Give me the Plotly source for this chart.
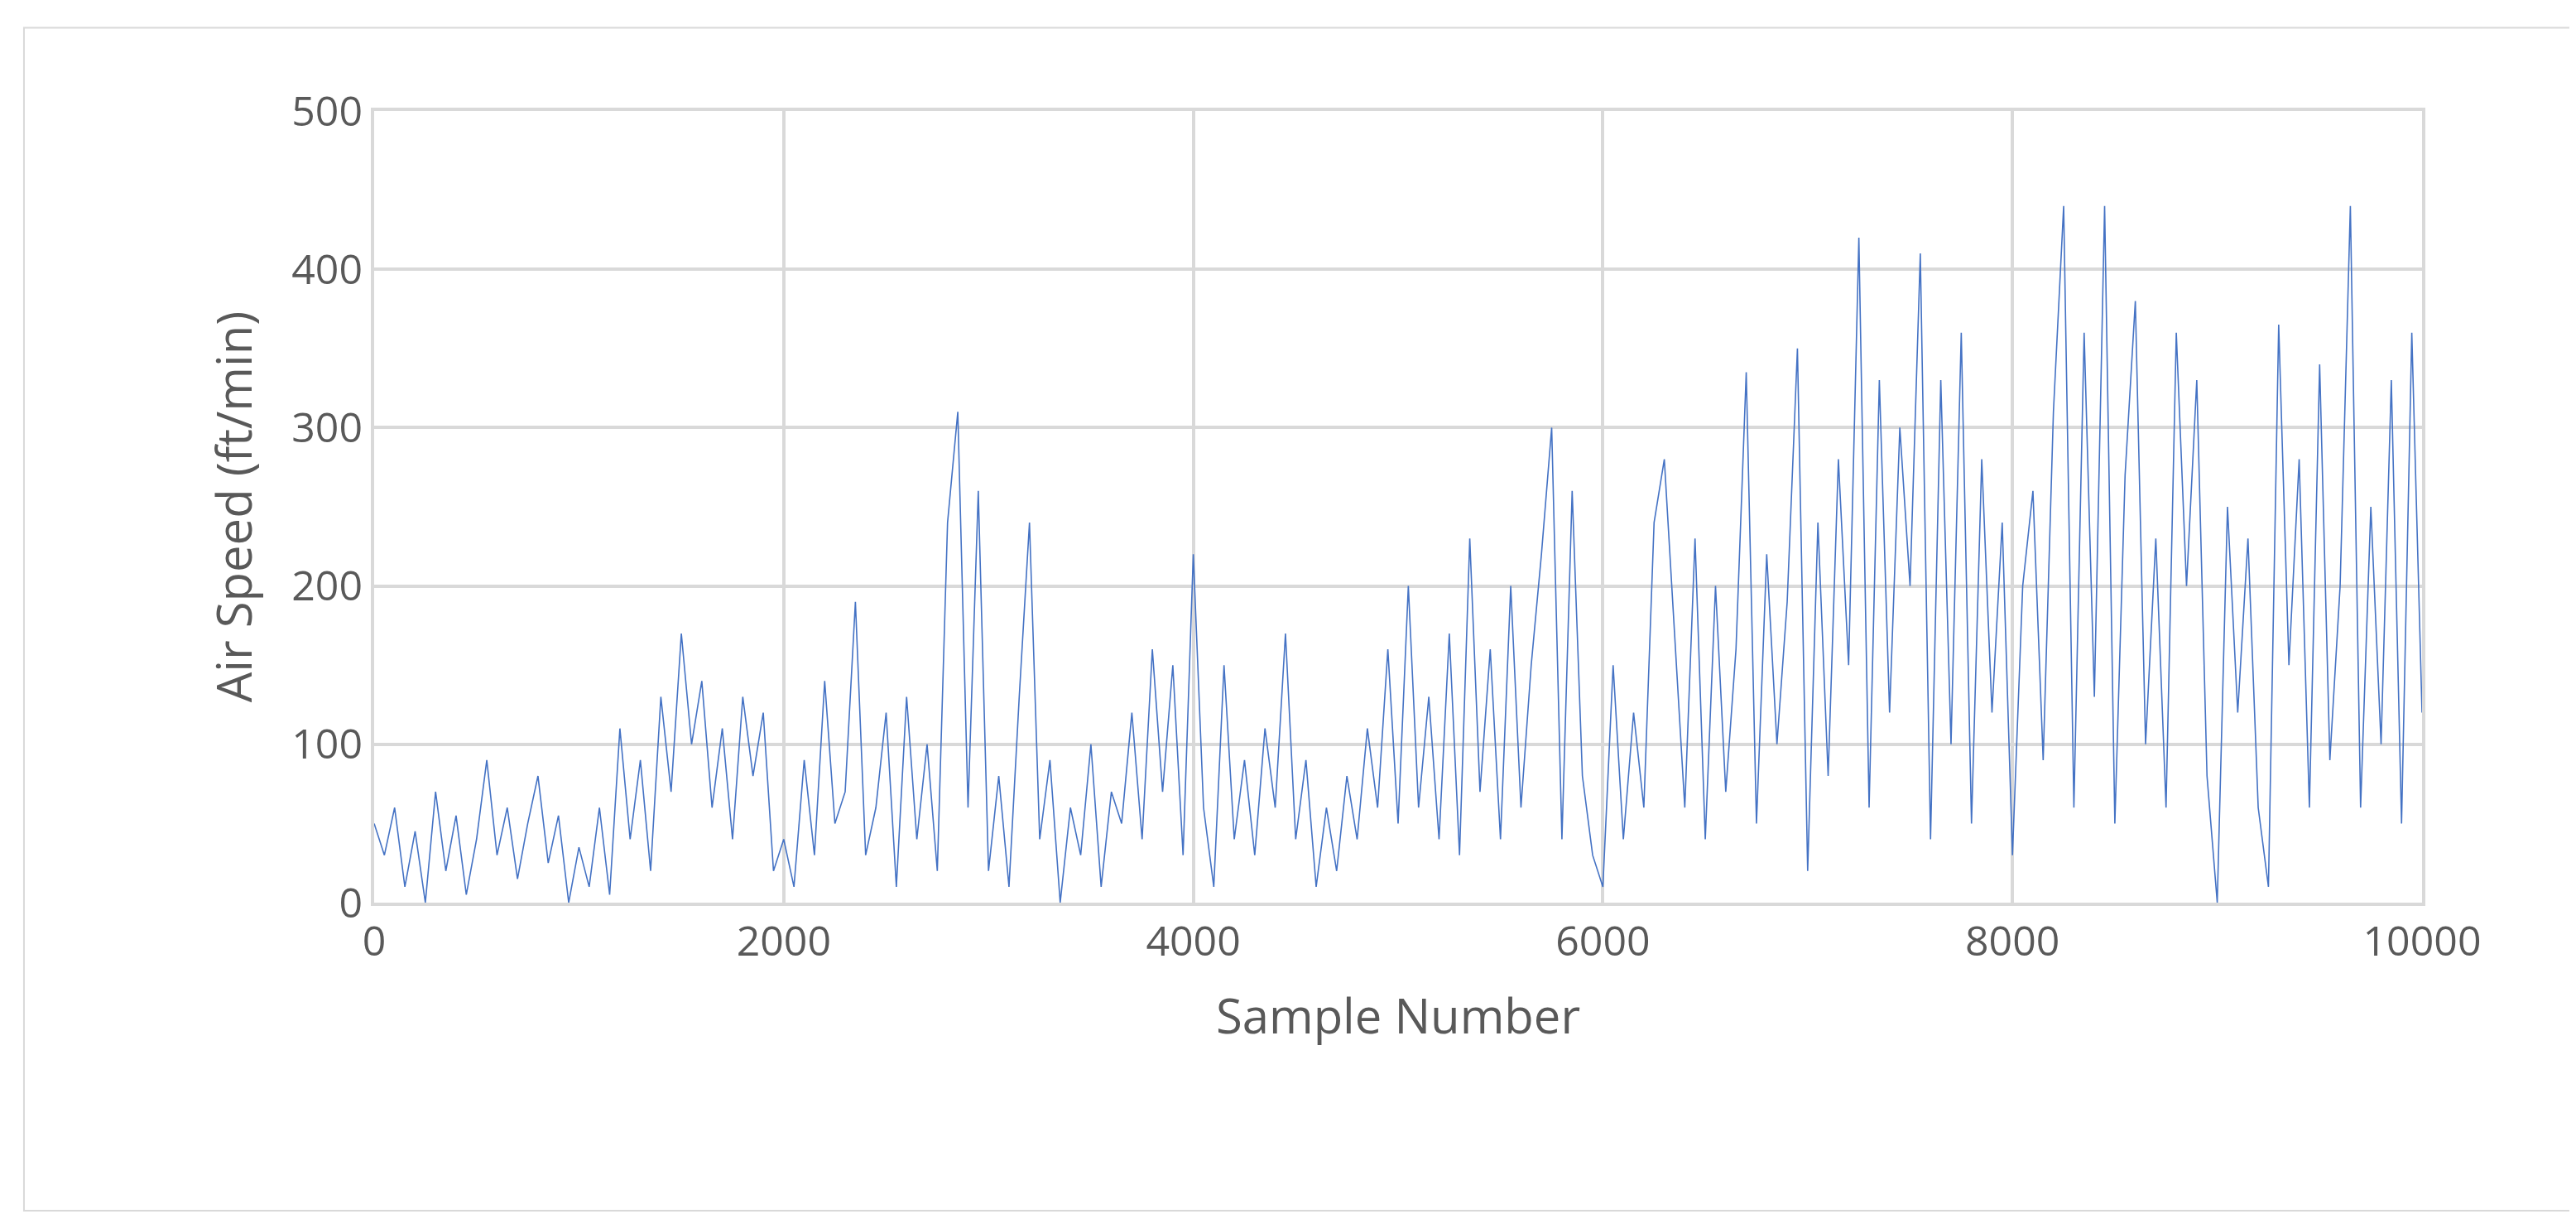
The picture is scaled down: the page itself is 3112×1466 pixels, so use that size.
import plotly.graph_objects as go

sample_start = 0
sample_step = 50
air_speed = [
    50,30,60,10,45,0,70,20,55,5,40,90,30,60,15,50,80,25,55,0,
    35,10,60,5,110,40,90,20,130,70,170,100,140,60,110,40,130,80,120,20,
    40,10,90,30,140,50,70,190,30,60,120,10,130,40,100,20,240,310,60,260,
    20,80,10,130,240,40,90,0,60,30,100,10,70,50,120,40,160,70,150,30,
    220,60,10,150,40,90,30,110,60,170,40,90,10,60,20,80,40,110,60,160,
    50,200,60,130,40,170,30,230,70,160,40,200,60,150,220,300,40,260,80,30,
    10,150,40,120,60,240,280,170,60,230,
    40,200,70,160,335,50,220,100,190,350,
    20,240,80,280,150,420,60,330,120,300,200,410,40,330,100,360,50,280,120,240,
    30,200,260,90,310,440,60,360,130,440,
    50,270,380,100,230,60,360,200,330,80,
    0,250,120,230,60,10,365,150,280,60,
    340,90,200,440,60,250,100,330,50,360,120,
]
samples = [sample_start + i * sample_step for i in range(len(air_speed))]

fig = go.Figure(go.Scatter(x=samples, y=air_speed, mode="lines",
                           line=dict(color="#4472C4", width=1.6)))
font = "Open Sans, Liberation Sans, sans-serif"
fig.update_layout(
    width=3112, height=1466, paper_bgcolor="white", plot_bgcolor="white",
    margin=dict(l=444, r=194, t=126, b=384),
    showlegend=False,
    font=dict(family=font, color="#595959", size=50),
    shapes=[dict(type="rect", xref="paper", yref="paper", x0=-0.171, x1=1.074,
                 y0=-0.389, y1=1.105, line=dict(color="#D9D9D9", width=2))],
)
fig.update_xaxes(range=[0, 10000], dtick=2000, tickformat="d", showgrid=True,
                 gridcolor="#D9D9D9", gridwidth=4, zeroline=False, showline=True,
                 linecolor="#D9D9D9", linewidth=4, mirror=True, ticks="",
                 tickfont=dict(size=50),
                 title=dict(text="Sample Number", font=dict(size=58), standoff=40))
fig.update_yaxes(range=[0, 500], dtick=100, showgrid=True, gridcolor="#D9D9D9",
                 gridwidth=4, zeroline=False, showline=True, linecolor="#D9D9D9",
                 linewidth=4, mirror=True, ticks="", tickfont=dict(size=50),
                 title=dict(text="Air Speed (ft/min)", font=dict(size=58), standoff=30))
fig.write_html("out.html")
